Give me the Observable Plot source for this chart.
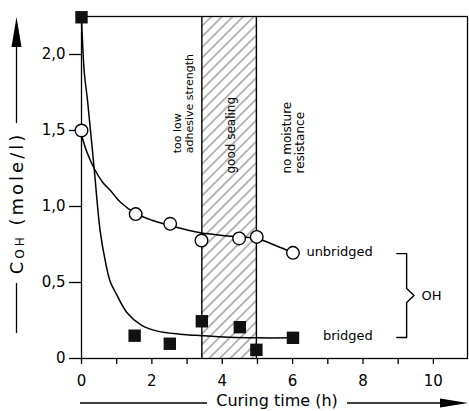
<!DOCTYPE html>
<html><head><meta charset="utf-8">
<script src="https://cdn.jsdelivr.net/npm/d3@7"></script>
<script src="https://cdn.jsdelivr.net/npm/@observablehq/plot@0.6"></script>
<style>body{margin:0;background:#fff}</style>
</head><body><div id="chart"></div>
<script>
// measured points
const unbridgedX = [0, 1.54, 2.52, 3.41, 4.48, 4.98, 6.01];
const unbridgedY = [1.50, 0.95, 0.886, 0.776, 0.79, 0.80, 0.695];
const bridgedX = [0, 1.51, 2.51, 3.42, 4.50, 4.97, 6.01];
const bridgedY = [2.245, 0.15, 0.097, 0.245, 0.206, 0.057, 0.136];
// curves as drawn in the figure
const unbridgedCurveX = [0, 0.15, 0.36, 0.6, 0.84, 1.1, 1.54, 2.0, 2.52, 3.0, 3.42, 4.0, 4.48, 4.98, 5.5, 6.01];
const unbridgedCurveY = [1.47, 1.36, 1.25, 1.16, 1.10, 1.03, 0.955, 0.91, 0.875, 0.845, 0.825, 0.81, 0.80, 0.79, 0.745, 0.695];
const bridgedCurveX = [0, 0.08, 0.17, 0.36, 0.53, 0.69, 0.81, 1.0, 1.3, 1.7, 2.16, 2.8, 3.42, 4.2, 4.97, 6.01];
const bridgedCurveY = [2.245, 1.88, 1.70, 1.25, 0.84, 0.625, 0.51, 0.42, 0.30, 0.22, 0.18, 0.16, 0.15, 0.14, 0.136, 0.136];
// region
const bandX = [3.42, 4.97];
const bandY = [0, 2.25];
// ticks
const xTicks = [0,1,2,3,4,5,6,7,8,9,10];
const xLabels = [0,2,4,6,8,10];
const yTicks = [0, 0.5, 1.0, 1.5, 2.0];
// annotations
const regionLabels = ["too low\nadhesive strength", "good sealing", "no moisture\nresistance"];
const regionLabelX = [2.89, 4.24, 6.02];
const regionLabelY = [1.35, 1.217, 1.217];
const regionLabelSize = [11, 12, 12];
const seriesLabels = ["unbridged", "bridged"];
const seriesLabelX = [8.28, 8.28];
const seriesLabelY = [0.70, 0.151];
const bracketX = [8.96, 9.24, 9.24, 9.45, 9.24, 9.24, 8.96];
const bracketY = [0.69, 0.69, 0.46, 0.414, 0.368, 0.138, 0.138];

const zip = (xs, ys) => xs.map((x, i) => ({x, y: ys[i]}));
const font = "DejaVu Sans, sans-serif";

const svg = Plot.plot({
  width: 469, height: 411,
  marginLeft: 81, marginRight: 2, marginTop: 16, marginBottom: 53,
  style: {fontFamily: font, background: "#fff", color: "#000", overflow: "visible"},
  x: {domain: [0, 10.97]},
  y: {domain: [0, 2.25]},
  marks: [
    Plot.rect([{x1: bandX[0], x2: bandX[1], y1: bandY[0], y2: bandY[1]}],
      {x1: "x1", x2: "x2", y1: "y1", y2: "y2", fill: "#888", className: "band"}),
    Plot.ruleX(bandX, {stroke: "#000", strokeWidth: 1.4}),
    Plot.frame({stroke: "#000", strokeWidth: 1.3}),
    Plot.axisY({ticks: yTicks, tickSize: 12, tickPadding: 4, strokeWidth: 1.3, fontSize: 15,
      tickFormat: d => d === 0 ? "0" : d.toFixed(1).replace(".", ","), label: null}),
    Plot.axisX({ticks: xTicks, tickSize: 6, tickPadding: 11, strokeWidth: 1.3, fontSize: 15,
      tickFormat: d => xLabels.includes(d) ? String(d) : "", label: null}),
    Plot.line(zip(bridgedCurveX, bridgedCurveY), {x: "x", y: "y", curve: "catmull-rom", stroke: "#000", strokeWidth: 1.5}),
    Plot.line(zip(unbridgedCurveX, unbridgedCurveY), {x: "x", y: "y", curve: "catmull-rom", stroke: "#000", strokeWidth: 1.5}),
    Plot.dot(zip(bridgedX, bridgedY), {x: "x", y: "y", symbol: "square", r: 7, fill: "#111", stroke: "none"}),
    Plot.dot(zip(unbridgedX, unbridgedY), {x: "x", y: "y", r: 6.3, fill: "#fff", stroke: "#000", strokeWidth: 1.4}),
    ...regionLabels.map((t, i) => Plot.text([{t, x: regionLabelX[i], y: regionLabelY[i]}],
      {x: "x", y: "y", text: "t", rotate: -90, textAnchor: "start", lineAnchor: "middle",
       fontSize: regionLabelSize[i], lineHeight: 1.1, fill: "#000"})),
    Plot.text(seriesLabels.map((t, i) => ({t, x: seriesLabelX[i], y: seriesLabelY[i]})),
      {x: "x", y: "y", text: "t", textAnchor: "end", fontSize: 13, fill: "#000"}),
    Plot.line(zip(bracketX, bracketY), {x: "x", y: "y", stroke: "#000", strokeWidth: 1.4}),
    Plot.text([{t: "OH", x: 9.66, y: 0.414}], {x: "x", y: "y", text: "t", textAnchor: "start", fontSize: 13, fill: "#000"})
  ]
});

const s = d3.select(svg);
const defs = s.append("defs");
const pat = defs.append("pattern").attr("id", "hatch").attr("patternUnits", "userSpaceOnUse")
  .attr("width", 7.5).attr("height", 7.5).attr("patternTransform", "rotate(45)");
pat.append("rect").attr("width", 7.5).attr("height", 7.5).attr("fill", "#fff");
pat.append("line").attr("x1", 3.75).attr("y1", 0).attr("x2", 3.75).attr("y2", 7.5)
  .attr("stroke", "#333").attr("stroke-width", 0.7);
svg.querySelectorAll(".band, .band rect").forEach(el => el.setAttribute("fill", "url(#hatch)"));

// axis titles with arrows
const g = s.append("g").attr("fill", "#000").attr("stroke", "#000");
// y title
g.append("line").attr("x1", 16.5).attr("x2", 16.5).attr("y1", 45).attr("y2", 123).attr("stroke-width", 1.3);
g.append("path").attr("d", "M16.5,17 L11.5,47 L21.5,47 Z").attr("stroke", "none");
g.append("line").attr("x1", 16.5).attr("x2", 16.5).attr("y1", 283).attr("y2", 333).attr("stroke-width", 1.3);
const yt = g.append("text").attr("transform", "translate(16,203) rotate(-90)")
  .attr("text-anchor", "middle").attr("dominant-baseline", "central").attr("stroke", "none")
  .attr("font-size", 18).attr("letter-spacing", 3).attr("font-family", font);
yt.append("tspan").text("C");
yt.append("tspan").attr("font-size", 12).attr("dy", 4).text("OH");
yt.append("tspan").attr("dy", -4).text(" (mole/l)");
// x title
g.append("line").attr("x1", 80).attr("x2", 207).attr("y1", 403).attr("y2", 403).attr("stroke-width", 1.3);
g.append("line").attr("x1", 347).attr("x2", 445).attr("y1", 403).attr("y2", 403).attr("stroke-width", 1.3);
g.append("path").attr("d", "M468,403 L440,398.5 L440,407.5 Z").attr("stroke", "none");
g.append("text").attr("x", 277).attr("y", 406).attr("text-anchor", "middle").attr("stroke", "none")
  .attr("font-size", 16).attr("font-family", font).text("Curing time (h)");

document.getElementById("chart").appendChild(svg);
</script>
</body></html>
